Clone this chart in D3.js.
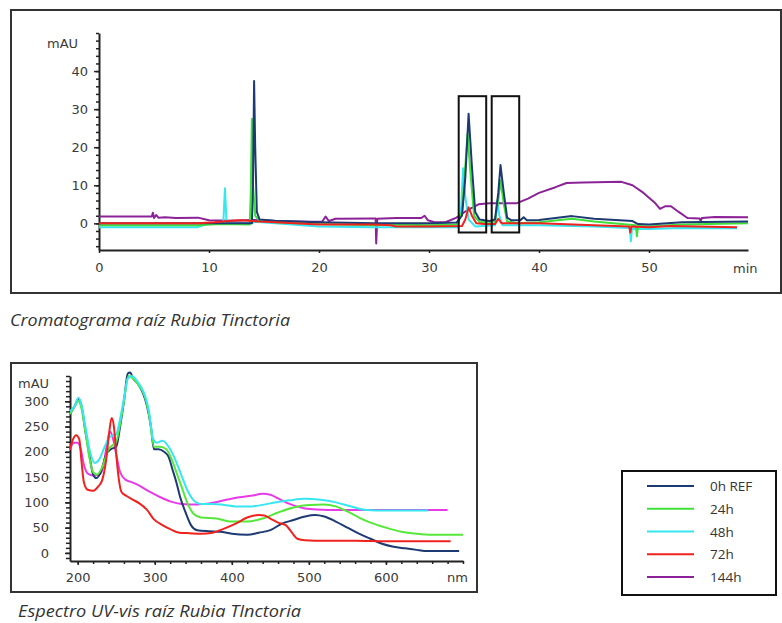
<!DOCTYPE html>
<html><head><meta charset="utf-8">
<script src="https://cdn.jsdelivr.net/npm/d3@7"></script>
<style>
html,body{margin:0;padding:0;background:#fff;}
svg{display:block;}
.ax text{font-family:"DejaVu Sans",Verdana,sans-serif;font-size:13px;fill:#3a3a3a;}
.ax path,.ax line{stroke:#222;}
</style></head><body>
<svg id="c" width="782" height="623"></svg>
<script>
// ---------- DATA ----------
const seriesNames = ["0h REF","24h","48h","72h","144h"];

// Chromatogram (time in min, signal in mAU)
const chromTicksX = [0,10,20,30,40,50];
const chromTicksY = [0,10,20,30,40];
const chromREF = [[0,0],[10,0],[11.5,0],[13.9,0],[14.0,10],[14.1,37.4],[14.2,20],[14.35,3],[14.6,1],[16,0.7],[20,0.3],[25,0],[30,0],[32.5,0.2],[33.0,2],[33.3,12],[33.6,28.8],[33.9,15],[34.2,3],[34.6,1],[35.5,0.6],[36.0,1],[36.3,8],[36.5,15.3],[36.8,8],[37.1,1.5],[37.5,0.8],[38.3,0.8],[38.6,1.6],[38.9,0.8],[40,0.9],[43,1.9],[45,1.2],[48.5,0.6],[49,-0.2],[50,-0.3],[53,0.3],[59,0.5]];
const chrom24 = [[0,-0.5],[9,-0.5],[11,-0.2],[13.7,-0.3],[13.8,8],[13.9,27.5],[14.0,10],[14.2,2],[14.6,0.7],[16,0.3],[20,-0.2],[25,-0.5],[27,-0.3],[30,-0.5],[32.5,-0.3],[33.0,3],[33.3,15],[33.5,23.5],[33.8,12],[34.1,2],[34.6,0.3],[36.0,0.5],[36.3,6],[36.5,11.3],[36.8,5],[37.1,0.5],[38,0],[40,0.3],[43,1.2],[45,0.5],[48,-0.3],[48.8,-0.5],[48.9,-3.4],[49.0,-0.7],[50,-0.8],[53,-0.3],[59,0]];
const chrom48 = [[0,-1],[9,-1],[10,0],[11.3,0],[11.45,9.2],[11.6,0],[13.8,0],[14.2,0.4],[16,0],[20,-0.8],[25,-1],[30,-1],[32.6,-1],[32.9,3],[33.1,14.5],[33.3,7],[33.6,1],[34.2,-0.8],[36.0,-0.5],[36.2,6],[36.4,2],[36.7,-0.5],[40,-0.5],[45,-0.8],[48.25,-1.2],[48.35,-4.7],[48.45,-1.5],[50,-1.5],[53,-1.2],[58,-1.3]];
const chrom72 = [[0,0],[9,0],[10.5,0.3],[12,0.7],[13,0.8],[14.5,0.5],[16,0.3],[20,-0.3],[25,-0.3],[26.5,-0.5],[27,-0.8],[30,-0.8],[33,-0.7],[33.3,1],[33.6,4.2],[33.9,2],[34.3,0],[35,-0.2],[36.0,-0.2],[36.3,1.2],[36.6,0],[40,0],[45,-0.5],[48.2,-0.8],[48.3,-2.4],[48.4,-0.8],[50,-1],[52,-0.7],[58,-1]];
const chrom144 = [[0,1.8],[4.8,1.8],[4.9,2.8],[5.0,1.4],[5.2,2.2],[5.4,1.5],[6,1.6],[7,1.4],[9,1.5],[10,0.8],[12,0.7],[14,0.9],[16,0.6],[19,0.4],[20.3,0.5],[20.6,1.8],[20.9,0.6],[21.5,1.2],[25,1.3],[25.15,1.3],[25.2,-5.3],[25.3,1.2],[27,1.4],[29.3,1.4],[29.6,2.0],[29.9,0.8],[30.5,0.3],[31.5,0.3],[32.5,1.5],[33.5,3.5],[34.5,5],[35.5,5.3],[38,5.3],[39,6.5],[40,8],[41.5,9.5],[42.5,10.6],[44,10.7],[47.5,10.9],[48.5,10],[49.5,8],[50.5,5.5],[51,3.8],[51.5,4.5],[52,4.5],[52.7,3],[53.5,1.4],[54.6,1.3],[54.7,0.6],[54.8,1.4],[56,1.7],[59,1.6]];
// highlight boxes [t0, t1, yLow, yHigh]
const peakBoxes = [[32.7,35.2,-2.4,33.4],[35.7,38.2,-2.4,33.4]];

// UV-vis spectrum (nm, mAU)
const specTicksX = [200,300,400,500,600];
const specTicksY = [0,50,100,150,200,250,300];
const specREF = [[190,275],[196,290],[201,305],[205,290],[210,240],[215,195],[220,155],[224,148],[230,160],[237,195],[243,205],[250,210],[255,250],[260,300],[265,355],[268,357],[272,345],[278,335],[285,315],[290,290],[295,250],[299,205],[305,205],[312,200],[318,190],[323,165],[328,140],[333,110],[340,80],[347,55],[355,45],[370,43],[385,42],[400,38],[420,36],[435,40],[450,45],[465,58],[480,65],[495,72],[508,75],[520,72],[535,62],[550,50],[565,38],[580,28],[595,18],[610,12],[625,9],[640,6],[650,4],[670,4],[695,4]];
const spec24 = [[190,275],[196,290],[201,300],[205,285],[210,240],[215,190],[220,160],[225,155],[232,170],[240,205],[250,220],[255,255],[260,300],[266,350],[272,345],[280,330],[287,310],[293,270],[299,210],[307,210],[315,205],[322,185],[328,160],[335,130],[342,100],[350,78],[360,70],[380,68],[400,62],[420,62],[440,68],[460,80],[480,90],[500,95],[520,96],[535,92],[550,82],[565,70],[580,60],[600,50],[620,42],[640,38],[660,36],[700,36]];
const spec48 = [[190,280],[196,290],[201,307],[205,292],[210,250],[216,200],[222,178],[228,185],[235,210],[242,230],[250,235],[255,265],[260,305],[265,345],[270,350],[278,338],[285,320],[292,285],[298,225],[303,218],[310,222],[318,210],[325,190],[333,160],[342,125],[350,105],[360,97],[375,97],[390,95],[405,92],[425,92],[450,98],[475,104],[495,107],[515,105],[535,100],[555,92],[575,85],[600,84],[655,84]];
const spec72 = [[190,205],[194,225],[198,233],[202,225],[205,180],[208,140],[213,125],[220,123],[227,132],[232,145],[237,185],[241,240],[244,267],[247,250],[250,195],[253,150],[257,120],[263,113],[272,105],[280,98],[290,85],[298,68],[310,55],[320,47],[332,40],[345,39],[360,38],[375,40],[390,48],[405,58],[420,70],[435,75],[442,74],[450,68],[460,60],[470,55],[478,40],[485,28],[495,25],[520,24],[560,24],[600,23],[684,23]];
const spec144 = [[190,205],[195,218],[200,218],[204,205],[208,175],[213,157],[220,153],[228,155],[233,170],[238,215],[242,240],[246,225],[250,195],[255,160],[262,145],[270,140],[280,133],[292,122],[305,112],[320,102],[335,97],[355,96],[370,98],[390,104],[410,110],[425,113],[440,117],[450,115],[460,108],[470,100],[482,93],[495,88],[510,86],[540,85],[600,85],[680,85]];

// ---------- STYLE ----------
const chromColors = ["#1d3a72","#3fe03a","#36e6f0","#f0221e","#8c2297"];
const specColors  = ["#1d3a72","#55e83a","#36e6f0","#f0221e","#e83ae8"];
const legendColors = ["#1d3a72","#3fe03a","#36e6f0","#f0221e","#8c2297"];

const svg = d3.select("#c");

// ================= CHROMATOGRAM =================
svg.append("rect").attr("x",11).attr("y",10).attr("width",770).attr("height",283)
  .attr("fill","none").attr("stroke","#333").attr("stroke-width",2);

const xC = d3.scaleLinear().domain([0,59]).range([99,748]);
const yC = d3.scaleLinear().domain([-7,50]).range([250,33]);

svg.append("g").attr("class","ax").attr("transform","translate(99,0)")
  .call(d3.axisLeft(yC).tickValues(d3.range(-6,51,2)).tickSize(3).tickFormat(""))
  .call(g=>g.select(".domain").remove())
  .selectAll("line").attr("stroke-width",1.5);
svg.append("g").attr("class","ax").attr("transform","translate(99,0)")
  .call(d3.axisLeft(yC).tickValues(chromTicksY).tickSize(5).tickPadding(6).tickSizeOuter(0))
  .call(g=>g.select(".domain").attr("stroke-width",2))
  .call(g=>g.selectAll("line").attr("stroke-width",1.5));
svg.append("g").attr("class","ax").attr("transform","translate(0,250)")
  .call(d3.axisBottom(xC).tickValues(chromTicksX).tickSize(3).tickPadding(10).tickSizeOuter(0))
  .call(g=>g.select(".domain").attr("stroke-width",2))
  .call(g=>g.selectAll("line").attr("stroke-width",1.5));

svg.append("text").attr("x",47).attr("y",48).text("mAU")
  .attr("font-family","DejaVu Sans, Verdana, sans-serif").attr("font-size",13).attr("fill","#3a3a3a");
svg.append("text").attr("x",733).attr("y",273).text("min")
  .attr("font-family","DejaVu Sans, Verdana, sans-serif").attr("font-size",13).attr("fill","#3a3a3a");

const lineC = d3.line().x(d=>xC(d[0])).y(d=>yC(d[1]));
const chromData = [chromREF,chrom24,chrom48,chrom72,chrom144];
[4,2,1,0,3].forEach(i=>{
  svg.append("path").datum(chromData[i]).attr("d",lineC)
    .attr("fill","none").attr("stroke",chromColors[i]).attr("stroke-width",2)
    .attr("stroke-linejoin","round");
});

peakBoxes.forEach(b=>{
  svg.append("rect").attr("x",xC(b[0])).attr("y",yC(b[3]))
    .attr("width",xC(b[1])-xC(b[0])).attr("height",yC(b[2])-yC(b[3]))
    .attr("fill","none").attr("stroke","#111").attr("stroke-width",2);
});

svg.append("text").attr("x",10).attr("y",326).text("Cromatograma raíz Rubia Tinctoria")
  .attr("font-family","Open Sans, sans-serif").attr("font-style","italic").attr("font-size",16)
  .attr("textLength",280).attr("lengthAdjust","spacingAndGlyphs").attr("fill","#333");

// ================= SPECTRUM =================
svg.append("rect").attr("x",11).attr("y",363).attr("width",466).attr("height",229)
  .attr("fill","none").attr("stroke","#333").attr("stroke-width",2);

const xS = d3.scaleLinear().domain([190,700]).range([70,463]);
const yS = d3.scaleLinear().domain([-16,350]).range([561,376]);

svg.append("g").attr("class","ax").attr("transform","translate(70,0)")
  .call(d3.axisLeft(yS).tickValues(d3.range(-10,351,10)).tickSize(4).tickFormat(""))
  .call(g=>g.select(".domain").remove())
  .selectAll("line").attr("stroke-width",1.5);
svg.append("g").attr("class","ax").attr("transform","translate(70,0)")
  .call(d3.axisLeft(yS).tickValues(specTicksY).tickSize(5).tickPadding(16).tickSizeOuter(0))
  .call(g=>g.select(".domain").attr("stroke-width",2))
  .call(g=>g.selectAll("line").attr("stroke-width",1.5));
svg.append("g").attr("class","ax").attr("transform","translate(0,561)")
  .call(d3.axisBottom(xS).tickValues(d3.range(200,701,20)).tickSize(3).tickFormat(""))
  .call(g=>g.select(".domain").remove())
  .selectAll("line").attr("stroke-width",1.5);
svg.append("g").attr("class","ax").attr("transform","translate(0,561)")
  .call(d3.axisBottom(xS).tickValues(specTicksX).tickSize(4).tickPadding(8).tickSizeOuter(0))
  .call(g=>g.select(".domain").attr("stroke-width",2))
  .call(g=>g.selectAll("line").attr("stroke-width",1.5));

svg.append("text").attr("x",18).attr("y",388).text("mAU")
  .attr("font-family","DejaVu Sans, Verdana, sans-serif").attr("font-size",13).attr("fill","#3a3a3a");
svg.append("text").attr("x",447).attr("y",582).text("nm")
  .attr("font-family","DejaVu Sans, Verdana, sans-serif").attr("font-size",13).attr("fill","#3a3a3a");

const lineS = d3.line().x(d=>xS(d[0])).y(d=>yS(d[1])).curve(d3.curveMonotoneX);
const specData = [specREF,spec24,spec48,spec72,spec144];
[4,0,1,2,3].forEach(i=>{
  svg.append("path").datum(specData[i]).attr("d",lineS)
    .attr("fill","none").attr("stroke",specColors[i]).attr("stroke-width",2)
    .attr("stroke-linejoin","round");
});

svg.append("text").attr("x",18).attr("y",617).text("Espectro UV-vis raíz Rubia TInctoria")
  .attr("font-family","Open Sans, sans-serif").attr("font-style","italic").attr("font-size",15.5)
  .attr("textLength",283).attr("lengthAdjust","spacingAndGlyphs").attr("fill","#333");

// ================= LEGEND =================
const lg = svg.append("g");
lg.append("rect").attr("x",622).attr("y",471).attr("width",154).attr("height",124)
  .attr("fill","none").attr("stroke","#111").attr("stroke-width",2);
const ly = d3.scalePoint().domain(seriesNames).range([486,577]);
seriesNames.forEach((n,i)=>{
  lg.append("line").attr("x1",647).attr("x2",694).attr("y1",ly(n)).attr("y2",ly(n))
    .attr("stroke",legendColors[i]).attr("stroke-width",2);
  lg.append("text").attr("x",710).attr("y",ly(n)+5).text(n)
    .attr("font-family","Open Sans, sans-serif").attr("font-size",13.5).attr("fill","#333");
});
</script>
</body></html>
